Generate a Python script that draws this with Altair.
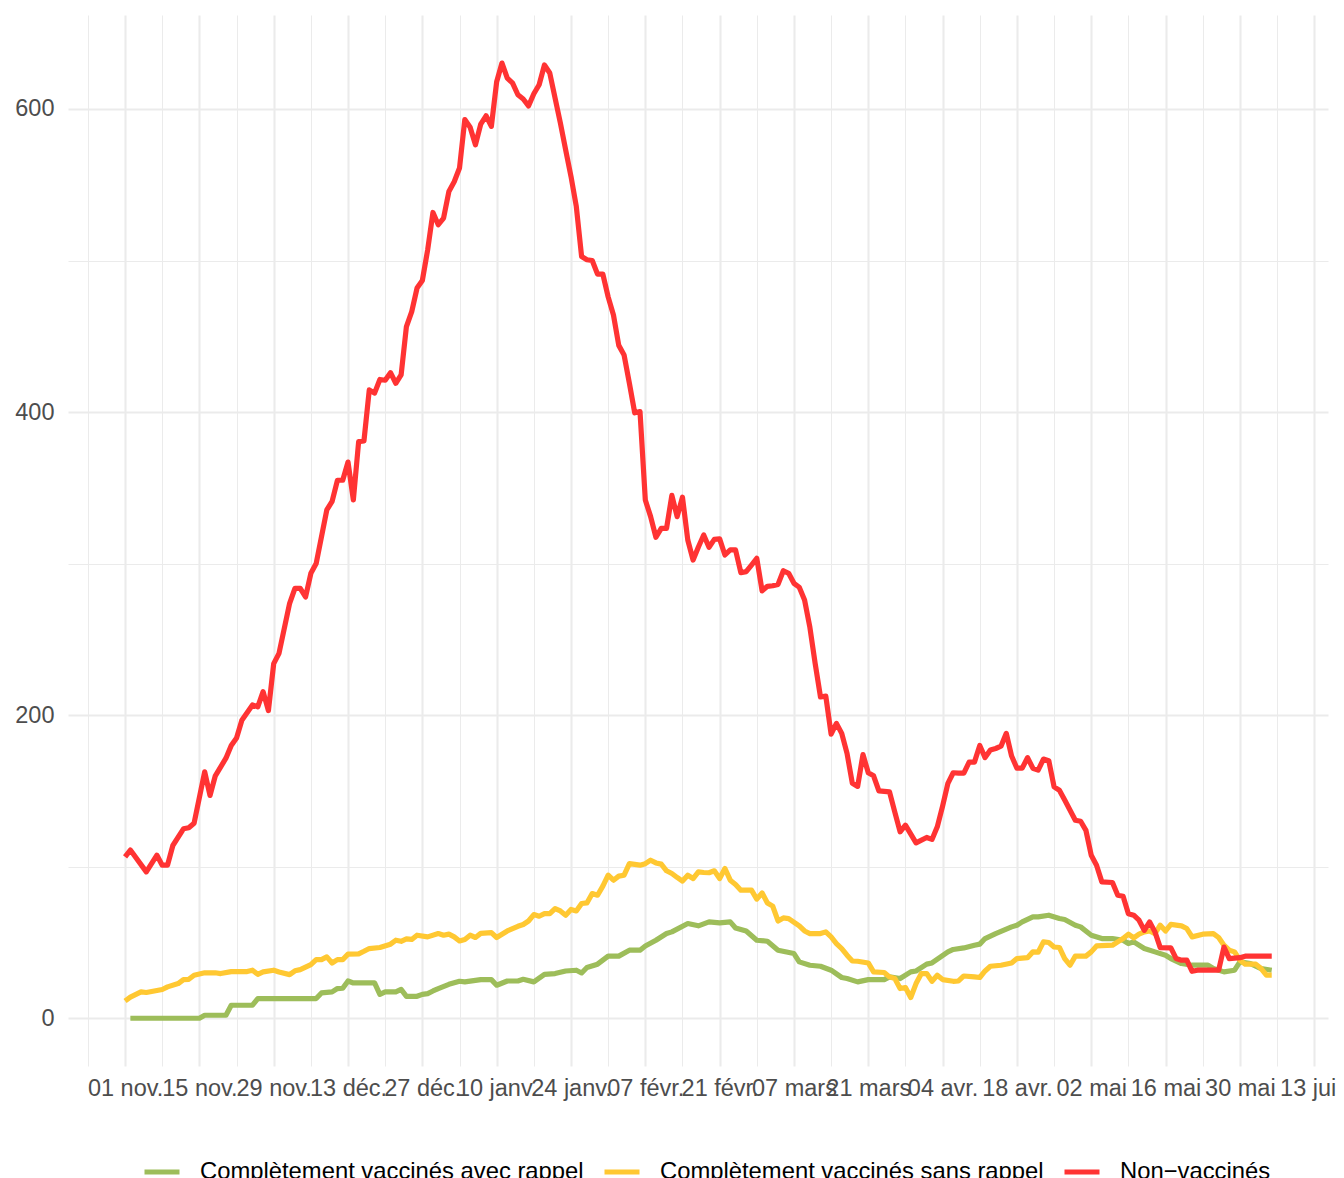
import altair as alt
import pandas as pd

# x values are days since 01 nov. 2021
TICK_LABELS = ["01 nov.", "15 nov.", "29 nov.", "13 déc.", "27 déc.", "10 janv.", "24 janv.",
               "07 févr.", "21 févr.", "07 mars", "21 mars", "04 avr.", "18 avr.", "02 mai",
               "16 mai", "30 mai", "13 juin"]
SERIES = ["Complètement vaccinés avec rappel", "Complètement vaccinés sans rappel", "Non−vaccinés"]
COLORS = ["#9DBD5A", "#FFC832", "#FF3333"]

green_day = [1, 14, 15, 19, 20, 24, 25, 36, 37, 39, 40, 41, 42, 43, 47, 48, 49, 51, 52, 53, 55, 56, 57, 58,
             59, 61, 63, 64, 67, 69, 70, 72, 74, 75, 77, 79, 81, 83, 85, 86, 87, 89, 91, 93, 95, 97, 98,
             100, 102, 103, 106, 108, 110, 112, 114, 115, 117, 119, 121, 123, 126, 127, 129, 131, 133,
             135, 136, 138, 140, 143, 144, 146, 148, 149, 151, 152, 155, 156, 158, 160, 161, 162, 164,
             167, 168, 169, 171, 172, 174, 176, 177, 179, 180, 182, 184, 186, 188, 189, 190, 192, 194,
             196, 197, 199, 201, 204, 205, 207, 209, 210, 212, 214, 216]
green_val = [0, 0, 2, 2, 8.6, 8.6, 13, 13, 16.7, 17.4, 19.6, 19.8, 24.6, 23.3, 23.3, 15.8, 17.4, 17.4, 19,
             14.5, 14.5, 15.8, 16.3, 18, 19.6, 22.4, 24.4, 24, 25.5, 25.5, 21.8, 24.6, 24.6, 25.7, 24, 29,
             29.5, 31.2, 31.7, 29.9, 33.5, 35.7, 41, 41, 44.9, 44.9, 47.7, 51.5, 55.9, 57, 62.5, 61, 63.6,
             62.9, 63.6, 59.6, 57.6, 51.5, 50.8, 44.9, 42.7, 37.2, 35, 34.3, 31.7, 26.9, 26.2, 24, 25.5,
             25.5, 27.3, 26.2, 30.6, 31.2, 35.7, 36.5, 43.8, 45.4, 46.4, 48.2, 48.9, 52.6, 55.9, 60.3,
             61.4, 63.6, 66.9, 66.9, 68, 65.8, 65.2, 61.4, 60.3, 54.8, 52.6, 52.6, 51.5, 49.3, 50.4, 46,
             43.8, 41.6, 39.4, 36.1, 35, 35, 32.8, 30.6, 31.7, 37.2, 36.1, 32.8, 31.7]

yellow_day = [0, 1, 3, 4, 7, 8, 10, 11, 12, 13, 15, 17, 18, 20, 23, 24, 25, 26, 28, 29, 31, 32, 33, 35, 36,
              37, 38, 39, 40, 41, 42, 44, 45, 46, 48, 50, 51, 52, 53, 54, 55, 57, 59, 60, 61, 62, 63, 64,
              65, 66, 67, 69, 70, 72, 74, 75, 76, 77, 78, 79, 80, 81, 82, 83, 84, 85, 86, 87, 88, 89, 90,
              91, 92, 93, 94, 95, 97, 98, 99, 100, 101, 102, 103, 104, 105, 106, 107, 108, 109, 110, 111,
              112, 113, 114, 115, 116, 118, 119, 120, 121, 122, 123, 124, 125, 127, 128, 129, 131, 132,
              133, 134, 135, 136, 137, 138, 140, 141, 143, 144, 145, 146, 147, 148, 149, 150, 151, 152,
              153, 154, 156, 157, 158, 160, 161, 162, 163, 165, 167, 168, 170, 171, 172, 173, 174, 175,
              176, 177, 178, 179, 181, 182, 183, 186, 187, 188, 189, 190, 191, 192, 193, 194, 195, 196,
              197, 199, 200, 201, 203, 205, 206, 207, 208, 209, 210, 211, 213, 214, 215, 216]
yellow_val = [11.4, 14, 17.4, 17, 19, 20.7, 22.9, 25.5, 25.7, 28.4, 30, 30, 29.5, 30.8, 30.8, 31.7, 29,
              30.6, 31.7, 30.5, 28.8, 31.3, 32.1, 35.4, 38.7, 38.7, 40.5, 36.5, 38.7, 38.7, 42.3, 42.5,
              44.2, 46, 46.7, 48.9, 51.5, 50.8, 52.4, 52, 54.8, 53.7, 55.9, 54.8, 55.5, 53.7, 51, 52, 54.8,
              53.3, 56, 56.5, 53.3, 57.6, 60.7, 61.9, 64.2, 68.4, 67.3, 69, 69, 72.4, 70.8, 68, 71.8, 70.8,
              75.7, 76.1, 82.3, 81.2, 87.2, 94.4, 91.1, 93.8, 94.4, 102, 101, 102, 104.3, 102.5, 101.7,
              97.3, 95.5, 92.9, 90.5, 94.4, 92.2, 96.6, 96.2, 96, 97.3, 92.2, 98.8, 91.1, 88.3, 84.5, 84.5,
              78.6, 82.7, 76.1, 74, 64.2, 66.2, 65.8, 61, 57.6, 55.9, 55.9, 57, 53.7, 49.3, 46, 41.6, 37.8,
              37.6, 36.5, 30.6, 30.2, 27.3, 26.2, 19.6, 20.3, 13.7, 22.9, 29.5, 29.5, 24.4, 28.4, 25.5,
              24.4, 24.6, 27.9, 27.3, 26.9, 31.2, 34.3, 35, 36.5, 39.4, 40, 43.8, 43.6, 50.4, 50, 47, 46.7,
              39.4, 35, 41, 41, 43.8, 47.7, 48.2, 50.4, 52.6, 55.5, 53, 55.5, 57, 57.6, 55.9, 61.4, 57.6,
              61.9, 61, 59.2, 53.7, 55.5, 55.9, 53.3, 48.2, 44.9, 43.8, 38.3, 35.7, 35.7, 32.8, 28.4, 28.4]

red_day = [0, 1, 4, 6, 7, 8, 9, 11, 12, 13, 15, 16, 17, 19, 20, 21, 22, 24, 25, 26, 27, 28, 29, 31, 32, 33,
           34, 35, 36, 38, 39, 40, 41, 42, 43, 44, 45, 46, 47, 48, 49, 50, 51, 52, 53, 54, 55, 56, 57, 58,
           59, 60, 61, 62, 63, 64, 65, 66, 67, 68, 69, 70, 71, 72, 73, 74, 75, 76, 77, 78, 79, 80, 82, 83,
           84, 85, 86, 87, 88, 89, 90, 91, 92, 93, 94, 95, 96, 97, 98, 99, 100, 101, 102, 103, 104, 105,
           106, 107, 108, 109, 110, 111, 112, 113, 114, 115, 116, 117, 118, 119, 120, 121, 122, 123, 124,
           125, 126, 127, 128, 129, 130, 131, 132, 133, 134, 135, 136, 137, 138, 139, 140, 141, 142, 144,
           145, 146, 147, 149, 151, 152, 153, 154, 155, 156, 157, 158, 159, 160, 161, 162, 163, 164, 165,
           166, 167, 168, 169, 170, 171, 172, 173, 174, 175, 176, 177, 179, 180, 181, 182, 183, 184, 186,
           187, 188, 189, 190, 191, 192, 193, 194, 195, 197, 198, 199, 200, 201, 202, 206, 207, 208, 210,
           211, 216]
red_val = [106.5, 111, 96.6, 107.6, 101, 101, 114, 125, 125.7, 128.7, 162.6, 147, 160, 171.6, 180, 185,
           196.7, 206.7, 205.5, 215.5, 203, 234, 240.8, 273.8, 283.7, 283.7, 278, 293.6, 300, 335.4, 341,
           355, 355, 367, 342, 380.5, 381, 414.6, 412.5, 421.5, 421, 426, 419, 424.5, 456.4, 466.3,
           481.8, 486.8, 507, 531.7, 523.6, 528, 545.6, 552, 561, 593, 588, 576.4, 590, 595.5, 588.5,
           618, 630.3, 620.4, 617, 609.4, 606.6, 602, 610, 616, 629, 623.7, 590.7, 573, 555.5, 535.7,
           502.6, 500.5, 500, 491, 491, 476, 464, 444, 437.7, 419, 399.5, 400.3, 342, 331, 317.4, 323.3,
           323.3, 345, 331, 343.8, 315.6, 302.4, 311, 318.9, 310.8, 316, 316.3, 305.7, 309, 309, 294,
           294.7, 299, 303.5, 282, 285, 285.4, 286.3, 295.3, 293.6, 287, 284.4, 276, 258, 234, 212,
           212.6, 187.5, 194.6, 188, 174.8, 155, 153, 174, 162, 160, 150, 149.4, 136, 123, 127.4, 115.7,
           119.3, 118, 126.3, 140, 155, 162, 161.8, 161.7, 169, 169, 180, 172, 177, 178, 179.5, 188, 173,
           165, 165, 172, 165, 163.7, 171, 170, 152.7, 150.5, 144, 130.7, 130, 124, 107.6, 101, 90, 89.6,
           81.2, 80.5, 69, 68, 64.7, 58, 63.6, 57, 46.6, 46.4, 39.4, 38.3, 38.3, 31, 31.7, 31.7, 47,
           39.4, 40, 41, 41]

rows = []
for name, days, vals in zip(SERIES, [green_day, yellow_day, red_day], [green_val, yellow_val, red_val]):
    for d, v in zip(days, vals):
        rows.append({"jour": d, "taux": v, "statut": name})
df = pd.DataFrame(rows)

FONT = "Liberation Sans"
label_js = "[" + ",".join("'" + t + "'" for t in TICK_LABELS) + "]"

x_axis = alt.Axis(
    title=None,
    values=list(range(-7, 225, 7)),
    labelExpr="datum.value % 14 == 0 ? " + label_js + "[datum.value / 14] : ''",
    labelOverlap=False, labelFlush=False, labelBound=False,
    ticks=False, domain=False,
    labelFontSize=23.5, labelColor="#4D4D4D", labelFont=FONT, labelPadding=10,
    gridColor="#EBEBEB",
    gridWidth={"condition": {"test": "datum.value % 14 == 0", "value": 2.1}, "value": 1.05},
)
y_axis = alt.Axis(
    title=None,
    values=[0, 100, 200, 300, 400, 500, 600],
    labelExpr="datum.value % 200 == 0 ? datum.label : ''",
    labelOverlap=False,
    ticks=False, domain=False,
    labelFontSize=23.5, labelColor="#4D4D4D", labelFont=FONT, labelPadding=14,
    gridColor="#EBEBEB",
    gridWidth={"condition": {"test": "datum.value % 200 == 0", "value": 2.1}, "value": 1.05},
)

chart = alt.Chart(df).mark_line(strokeWidth=5.2, strokeJoin="round").encode(
    x=alt.X("jour:Q", axis=x_axis, scale=alt.Scale(domain=[-10.75, 226.6], nice=False, zero=False)),
    y=alt.Y("taux:Q", axis=y_axis, scale=alt.Scale(domain=[-31.5, 662], nice=False, zero=False)),
    color=alt.Color("statut:N", scale=alt.Scale(domain=SERIES, range=COLORS),
                    legend=alt.Legend(title=None, orient="none", legendX=74, legendY=1137,
                                      direction="horizontal", symbolType="stroke",
                                      symbolStrokeWidth=5, symbolSize=1225,
                                      labelFontSize=23.8, labelFont=FONT, labelColor="#000000",
                                      labelOffset=18, columnPadding=10, padding=0,
                                      labelLimit=1000)),
    order=alt.Order("jour:Q"),
).properties(
    width=1260, height=1051,
    autosize=alt.AutoSizeParams(type="none"),
    padding={"left": 60, "top": 7, "right": 8, "bottom": 112},
).configure(font=FONT).configure_view(stroke=None)

chart.save("out.html", embed_options={"renderer": "svg", "actions": False})
